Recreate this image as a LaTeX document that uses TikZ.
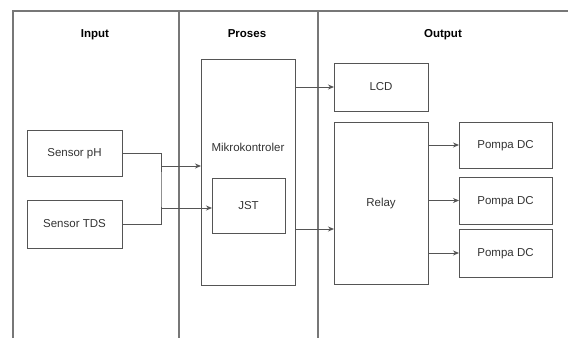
\documentclass[tikz,border=0pt]{standalone}
\usepackage{fontspec}
\setmainfont{Liberation Sans}
\usepackage{xcolor}
\usetikzlibrary{positioning,arrows.meta}

\definecolor{garis}{HTML}{555555}
\definecolor{teks}{HTML}{333333}

\begin{document}
\begin{tikzpicture}[x=1pt,y=-1pt,>={Stealth[length=6pt,width=5pt]},
                    semithick,
                    blok/.style={draw=garis,line width=1pt,text=teks,
                                 font=\fontsize{11.5}{13}\selectfont,
                                 text height=1.6ex,text depth=0.1ex,
                                 inner sep=0pt,outer sep=0pt},
                    judul/.style={font=\bfseries\fontsize{11.5}{13}\selectfont,text=black,
                                  text height=1.6ex,text depth=0.1ex},
                    kolom/.style={draw=garis!80,line width=1.2pt},
                    panah/.style={->,draw=garis,line width=0.9pt}]
    \useasboundingbox (0,0) rectangle (568,338);

    % kolom
    \draw[kolom] (13,338) -- (13,11) -- (568,11);
    \draw[kolom] (179,11) -- (179,338);
    \draw[kolom] (318,11) -- (318,338);
    \node[judul] (input)  at (95,34)  {Input};
    \node[judul] (proses) at (247,34) {Proses};
    \node[judul] (output) at (443,34) {Output};

    % input
    \node[blok,minimum width=95pt,minimum height=46pt] (ph)  at (74.5,153) {Sensor pH};
    \node[blok,minimum width=95pt,minimum height=48pt] (tds) at (74.5,224) {Sensor TDS};

    % proses
    \node[blok,minimum width=94pt,minimum height=226pt] (mikro) at (248,172) {};
    \node[text=teks,font=\fontsize{11.5}{13}\selectfont] (mikrolabel) at (248,147) {Mikrokontroler};
    \node[blok,minimum width=73pt,minimum height=55pt] (jst) at (248.5,205.5) {JST};

    % output
    \node[blok,minimum width=94pt,minimum height=48pt]  (lcd)   at (381,87)  {LCD};
    \node[blok,minimum width=94pt,minimum height=162pt] (relay) at (381,203) {Relay};
    \node[blok,minimum width=93pt,minimum height=46pt] (pompa1) at (505.5,145) {Pompa DC};
    \node[blok,minimum width=93pt,minimum height=47pt] (pompa2) at (505.5,200.5) {Pompa DC};
    \node[blok,minimum width=93pt,minimum height=48pt] (pompa3) at (505.5,253) {Pompa DC};

    \coordinate (bus) at (161,190);
    \coordinate (in1) at (161,166);
    \coordinate (in2) at (161,208);
    \coordinate (out2) at (295,229);

    \draw[garis,line width=0.9pt] (ph.east) -| (bus) |- (tds.east);
    \draw[panah] (in1) -- (in1 -| mikro.west);
    \draw[panah] (in2) -- (in2 -| jst.west);
    \draw[panah] (mikro.east |- lcd.west) -- (lcd.west);
    \draw[panah] (out2) -- (out2 -| relay.west);
    \foreach \i in {1,2,3}
        \draw[panah] (relay.east |- pompa\i.west) -- (pompa\i.west);
\end{tikzpicture}
\end{document}
